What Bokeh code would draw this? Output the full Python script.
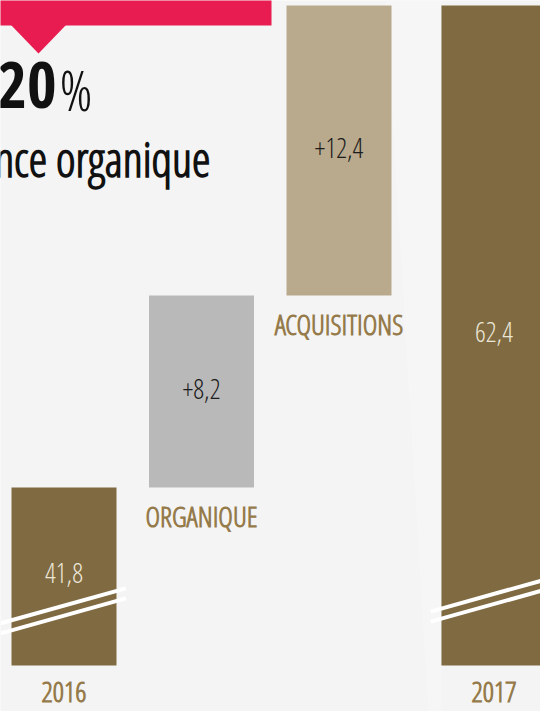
from bokeh.plotting import figure
from bokeh.models import Range1d, Label, BoxAnnotation, PolyAnnotation, ColumnDataSource
from bokeh.core.properties import value
from bokeh.embed import file_html
from bokeh.resources import INLINE

# ---------------- data ----------------
categories = ["2016", "ORGANIQUE", "ACQUISITIONS", "2017"]
values = [41.8, 8.2, 12.4, 62.4]
kinds = ["total", "delta", "delta", "total"]
headline = "+20"
headline_unit = "%"
subtitle = "croissance organique"

# ---------------- style ----------------
FONT_B = "'Noto Sans ExtraCondensed', 'Noto Sans Condensed', 'Open Sans Condensed', 'DejaVu Sans Condensed', sans-serif"
FONT_L = "'Open Sans Condensed Light', 'DejaVu Sans Condensed', sans-serif"
BASE = 34.2            # broken-axis floor of the total bars
FIG_W, FIG_H = 540, 711
BG = "#f4f4f4"
C_TOTAL = "#7f6a41"
C_ORG = "#b9b9b9"
C_ACQ = "#b9a98d"
C_CAT = "#957a4a"

def sx(rx):
    return rx

def sy(ry):
    return FIG_H - ry

# waterfall geometry
xs, bottoms, tops, colors, labels, lab_colors, cat_sizes, cat_gap = [], [], [], [], [], [], [], []
running = 0.0
for i, (c, v, k) in enumerate(zip(categories, values, kinds)):
    x = i + (0.127 if (k == "total" and i > 0) else 0.0)
    xs.append(x)
    if k == "total":
        bottoms.append(BASE)
        tops.append(v)
        running = v
        colors.append(C_TOTAL)
        labels.append(f"{v:.1f}".replace(".", ","))
        lab_colors.append("#ebe5d6")
        cat_sizes.append("28px")
        cat_gap.append(1.1)
    else:
        bottoms.append(running)
        tops.append(running + v)
        running += v
        colors.append(C_ORG if i == 1 else C_ACQ)
        labels.append("+" + f"{v:.1f}".replace(".", ","))
        lab_colors.append("#1c1c1c")
        cat_sizes.append("28px")
        cat_gap.append(1.2)

mids = [(b + t) / 2 for b, t in zip(bottoms, tops)]
cat_y = [b - g for b, g in zip(bottoms, cat_gap)]

src = ColumnDataSource(dict(x=xs, bottom=bottoms, top=tops, color=colors,
                            label=labels, lab_color=lab_colors, mid=mids,
                            cat=categories, cat_y=cat_y, cat_size=cat_sizes))

p = figure(width=FIG_W, height=FIG_H, output_backend="svg", toolbar_location=None,
           x_range=Range1d(-0.4618, 3.4655), y_range=Range1d(32.23, 62.61),
           min_border=0)
p.axis.visible = False
p.grid.visible = False
p.outline_line_color = None
p.background_fill_color = BG
p.border_fill_color = BG

# subtle light band in background
p.add_layout(PolyAnnotation(xs=[sx(385), sx(441), sx(441), sx(428)],
                            ys=[sy(0), sy(0), sy(711), sy(711)],
                            xs_units="screen", ys_units="screen",
                            fill_color="#f6f6f6", fill_alpha=1.0, line_color=None, level="underlay"))

p.vbar(x="x", width=0.7636, bottom="bottom", top="top", fill_color="color",
       line_color=None, source=src)

# axis-break marks on total bars
brk_offsets = {0: 1.8, 3: 2.3}
x0s, y0s, x1s, y1s = [], [], [], []
for i, k in enumerate(kinds):
    if k != "total":
        continue
    off = brk_offsets.get(i, 2.0)
    for d in (0.0, -0.43):
        x0s.append(xs[i] - 0.46)
        y0s.append(BASE + off + d)
        x1s.append(xs[i] + 0.45)
        y1s.append(BASE + off + d + 1.64 * 0.91)
p.segment(x0=x0s, y0=y0s, x1=x1s, y1=y1s, line_color="white", line_width=4)

p.text(x="x", y="mid", text="label", text_color="lab_color", source=src,
       text_font=value(FONT_L), text_font_size="27px", text_align="center",
       text_baseline="middle", y_offset=-3)
p.text(x="x", y="cat_y", text="cat", text_color=C_CAT, source=src,
       text_font=value(FONT_L), text_font_style="bold", text_font_size="cat_size",
       text_align="center", text_baseline="middle")

# banner
p.add_layout(BoxAnnotation(left=sx(-5), right=sx(271), top=sy(-10), bottom=sy(25),
                           left_units="screen", right_units="screen",
                           top_units="screen", bottom_units="screen",
                           fill_color="#e81c50", fill_alpha=1.0, line_color=None))
p.add_layout(PolyAnnotation(xs=[sx(10), sx(66), sx(38)], ys=[sy(24), sy(24), sy(53)],
                            xs_units="screen", ys_units="screen",
                            fill_color="#e81c50", fill_alpha=1.0, line_color=None))

p.add_layout(Label(x=sx(56), y=sy(84), x_units="screen", y_units="screen",
                   text=headline, text_font=FONT_B, text_font_style="bold",
                   text_font_size="64px", text_color="#111111", text_align="right",
                   text_baseline="alphabetic"))
p.add_layout(Label(x=sx(59), y=sy(88), x_units="screen", y_units="screen",
                   text=headline_unit, text_font=FONT_L,
                   text_font_size="56px", text_color="#111111", text_align="left",
                   text_baseline="alphabetic"))
p.add_layout(Label(x=sx(210), y=sy(158), x_units="screen", y_units="screen",
                   text=subtitle, text_font=FONT_L, text_font_style="bold",
                   text_font_size="47px", text_color="#111111", text_align="right",
                   text_baseline="alphabetic"))

open("out.html", "w").write(file_html(p, INLINE))
